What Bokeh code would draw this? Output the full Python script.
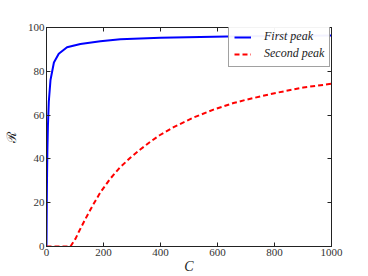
from bokeh.plotting import figure
from bokeh.models import Range1d, LinearAxis, Legend, LegendItem, FixedTicker
from bokeh.embed import file_html
from bokeh.resources import INLINE

# data
c_first = [0, 0.5, 1, 2, 3, 5, 8, 14, 26, 43, 72, 119, 189, 259, 400, 633, 800, 1000]
r_first = [0, 11, 20, 33, 43, 55, 66, 76, 84, 88, 91, 92.5, 93.7, 94.6, 95.3, 95.9, 96.1, 96.3]
c_second = [0, 84, 102, 113, 137, 162, 189, 222, 257, 294, 329, 364, 397, 446, 516,
            586, 656, 700, 796, 901, 1000]
r_second = [0, 0, 3.6, 6.6, 12.7, 18.7, 24.7, 30.7, 36, 40.5, 44.3, 47.8, 50.8, 54.5, 58.9,
            62.5, 65.5, 67, 69.9, 72.6, 74.3]
x_ticks = [0, 200, 400, 600, 800, 1000]
y_ticks = [0, 20, 40, 60, 80, 100]

FONT = "Liberation Serif"
DARK = "#222222"

p = figure(width=360, height=276, output_backend="svg", toolbar_location=None,
           x_range=Range1d(0, 1000), y_range=Range1d(0, 100),
           min_border_left=46, min_border_right=29, min_border_top=27, min_border_bottom=28)
p.grid.visible = False
p.outline_line_color = DARK
p.background_fill_color = "white"
p.border_fill_color = "white"


def style(ax, ticks, labels=True):
    ax.ticker = FixedTicker(ticks=ticks)
    ax.minor_tick_line_color = None
    ax.major_tick_in = 4
    ax.major_tick_out = 0
    ax.axis_line_color = DARK
    ax.major_tick_line_color = DARK
    ax.major_label_text_font = FONT
    ax.major_label_text_font_size = "11px"
    ax.major_label_text_color = "#333333"
    ax.major_label_standoff = 2
    ax.axis_label_text_font = FONT
    ax.axis_label_text_font_size = "14px"
    ax.axis_label_text_color = "#222222"
    ax.axis_label_standoff = 0
    if not labels:
        ax.major_label_text_font_size = "0px"
        ax.major_label_text_color = None


style(p.xaxis[0], x_ticks)
style(p.yaxis[0], y_ticks)
p.xaxis[0].axis_label = "C"
p.xaxis[0].axis_label_text_font_style = "italic"
p.yaxis[0].axis_label = "ℛ"
p.yaxis[0].axis_label_text_font = "DejaVu Serif"
p.yaxis[0].axis_label_text_font_size = "13px"
p.yaxis[0].axis_label_text_font_style = "normal"
p.yaxis[0].axis_label_standoff = 6

top = LinearAxis()
right = LinearAxis()
style(top, x_ticks, labels=False)
style(right, y_ticks, labels=False)
p.add_layout(top, "above")
p.add_layout(right, "right")

l1 = p.line(c_first, r_first, line_color="#0000ff", line_width=2)
l2 = p.line(c_second, r_second, line_color="#ff0000", line_width=2, line_dash="5 3")

legend = Legend(items=[LegendItem(label="First peak", renderers=[l1]),
                       LegendItem(label="Second peak", renderers=[l2])],
                location=(182, 179))
legend.label_text_font = FONT
legend.label_text_font_style = "italic"
legend.label_text_font_size = "12px"
legend.label_text_color = "#222222"
legend.border_line_color = "#444444"
legend.border_line_width = 1
legend.glyph_width = 17
legend.glyph_height = 12
legend.label_height = 12
legend.spacing = 2
legend.padding = 5
legend.margin = 0
legend.label_standoff = 13
p.add_layout(legend, "center")

open("out.html", "w").write(file_html(p, INLINE))
